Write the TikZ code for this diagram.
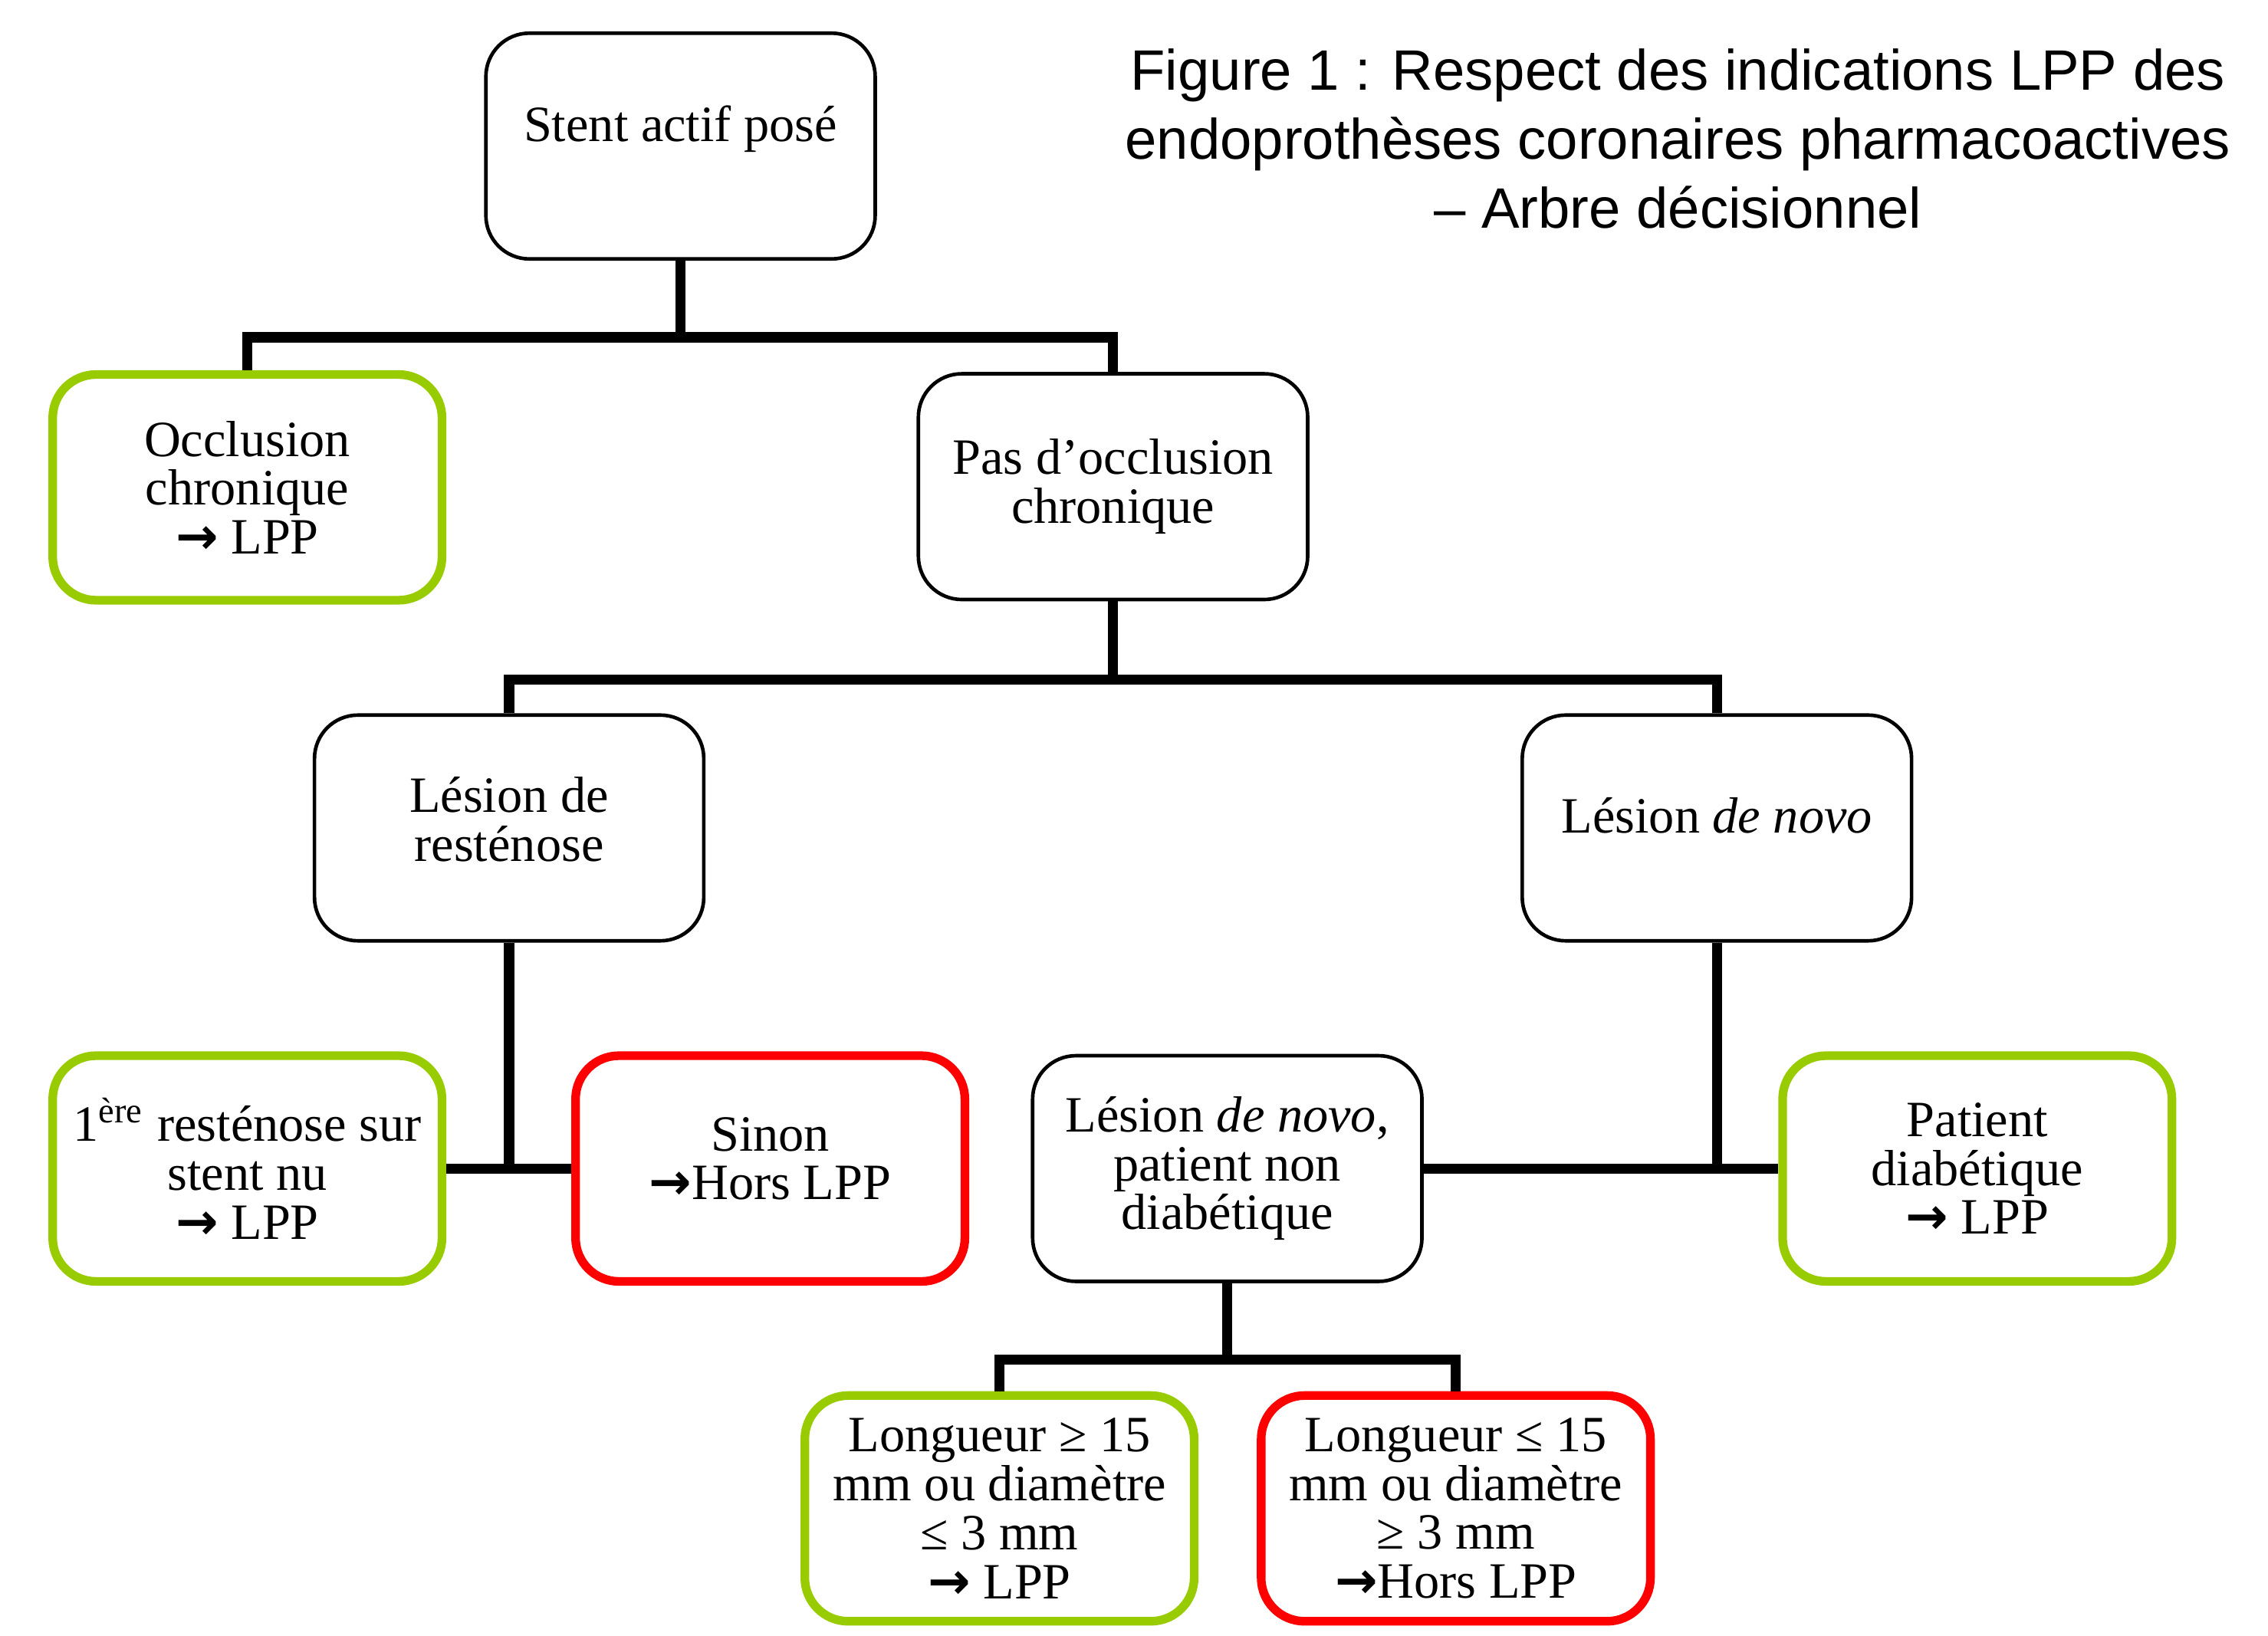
\documentclass[tikz,border=0pt]{standalone}
\usepackage{fontspec}
\setmainfont{Liberation Serif}
\newfontfamily\titlefont{Liberation Sans}
\newfontfamily\arrowfont{DejaVu Sans}
\usepackage{xcolor}
\usepackage{tikz}
\usetikzlibrary{positioning}
\definecolor{lppgreen}{RGB}{153,204,0}
\definecolor{horsred}{RGB}{255,0,0}
\newcommand{\fleche}{{\arrowfont\bfseries →}}

\begin{document}
\begin{tikzpicture}[
    x=0.01cm, y=-0.01cm,
    every node/.style={align=center, font=\fontsize{10}{9.6}\selectfont},
    box/.style={draw, line width=0.7pt, rounded corners=0.3cm, minimum width=2.69cm, minimum height=1.56cm, inner sep=2pt},
    lpp/.style={box, draw=lppgreen, line width=1.7pt},
    hors/.style={box, draw=horsred, line width=1.7pt},
    link/.style={draw, line width=2pt}
]
\useasboundingbox (0,0) rectangle (1568,1131);

\node[font=\titlefont\fontsize{11.2}{13.6}\selectfont] (title) at (1160,96)
    {Figure 1 : Respect des indications LPP des\\endoprothèses coronaires pharmacoactives\\– Arbre décisionnel};

\node[box] (stent) at (470.5,101) {Stent actif posé\\[-0.6pt]\mbox{}};
\node[lpp] (occl) at (171,337) {Occlusion\\chronique\\\fleche{} LPP};
\node[box] (pasoccl) at (769.5,336.5) {Pas d’occlusion\\chronique};
\node[box] (resten) at (352,572.5) {Lésion de\\resténose\\[-6.2pt]\mbox{}};
\node[box] (novo) at (1187,572.5) {Lésion \textit{de novo}\\[-4.5pt]\mbox{}};
\node[lpp] (premiere) at (171,808) {1\textsuperscript{ère} resténose sur\\stent nu\\\fleche{} LPP};
\node[hors] (sinon) at (532.5,808) {Sinon\\\fleche Hors LPP\\[-5.6pt]\mbox{}};
\node[box] (nondiab) at (848.5,808) {Lésion \textit{de novo},\\patient non\\diabétique};
\node[lpp] (diab) at (1367,808) {Patient\\diabétique\\\fleche{} LPP};
\node[lpp] (longok) at (691,1043) {Longueur ≥ 15\\mm ou diamètre\\≤ 3 mm\\\fleche{} LPP};
\node[hors] (longko) at (1006.5,1043) {Longueur ≤ 15\\mm ou diamètre\\≥ 3 mm\\\fleche Hors LPP};

\draw[link] (stent.south) -- ++(0,53) -| (occl.north);
\draw[link] (stent.south) -- ++(0,53) -| (pasoccl.north);
\draw[link] (pasoccl.south) -- ++(0,54) -| (resten.north);
\draw[link] (pasoccl.south) -- ++(0,54) -| (novo.north);
\draw[link] (resten.south) |- (premiere.east);
\draw[link] (resten.south) |- (sinon.west);
\draw[link] (novo.south) |- (nondiab.east);
\draw[link] (novo.south) |- (diab.west);
\draw[link] (nondiab.south) -- ++(0,53) -| (longok.north);
\draw[link] (nondiab.south) -- ++(0,53) -| (longko.north);

\end{tikzpicture}
\end{document}
